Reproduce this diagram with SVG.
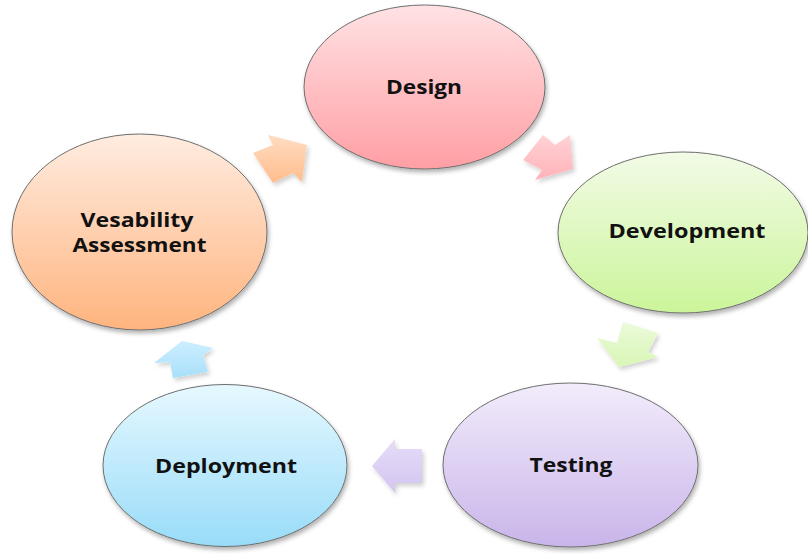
<svg xmlns="http://www.w3.org/2000/svg" width="808" height="554" viewBox="0 0 808 554">
  <style>
    .node { stroke: #6e6e6e; stroke-width: 1; filter: url(#shadow); }
    .arrow { stroke: none; filter: url(#ashadow); }
    .label { font-family: "Open Sans", "Liberation Sans", sans-serif; font-weight: 700; font-size: 20px; fill: #111; text-anchor: middle; }
  </style>
  <defs>
    <filter id="shadow" x="-10%" y="-10%" width="125%" height="130%">
      <feDropShadow dx="1.5" dy="3" stdDeviation="2" flood-color="#000" flood-opacity="0.3"/>
    </filter>
    <filter id="ashadow" x="-20%" y="-20%" width="150%" height="150%">
      <feDropShadow dx="2" dy="3" stdDeviation="2" flood-color="#000" flood-opacity="0.18"/>
    </filter>
    <linearGradient id="gPink" x1="0" y1="0" x2="0" y2="1">
      <stop offset="0" stop-color="#ffe2e4"/>
      <stop offset="1" stop-color="#ff9fa4"/>
    </linearGradient>
    <linearGradient id="gGreen" x1="0" y1="0" x2="0" y2="1">
      <stop offset="0" stop-color="#f2fbe6"/>
      <stop offset="1" stop-color="#cbf59a"/>
    </linearGradient>
    <linearGradient id="gOrange" x1="0" y1="0" x2="0" y2="1">
      <stop offset="0" stop-color="#ffece0"/>
      <stop offset="1" stop-color="#ffb47e"/>
    </linearGradient>
    <linearGradient id="gPurple" x1="0" y1="0" x2="0" y2="1">
      <stop offset="0" stop-color="#f2ecfb"/>
      <stop offset="1" stop-color="#c9b5ea"/>
    </linearGradient>
    <linearGradient id="gBlue" x1="0" y1="0" x2="0" y2="1">
      <stop offset="0" stop-color="#e6f8ff"/>
      <stop offset="1" stop-color="#98dcf8"/>
    </linearGradient>
    <linearGradient id="aOrange" x1="0" y1="0" x2="0" y2="1">
      <stop offset="0" stop-color="#ffdcc2"/>
      <stop offset="1" stop-color="#ffbd8c"/>
    </linearGradient>
    <linearGradient id="aPink" x1="0" y1="0" x2="0" y2="1">
      <stop offset="0" stop-color="#ffd2d5"/>
      <stop offset="1" stop-color="#ffb3b8"/>
    </linearGradient>
    <linearGradient id="aGreen" x1="0" y1="0" x2="0" y2="1">
      <stop offset="0" stop-color="#ecfadb"/>
      <stop offset="1" stop-color="#d8f6b4"/>
    </linearGradient>
    <linearGradient id="aPurple" x1="0" y1="0" x2="0" y2="1">
      <stop offset="0" stop-color="#e6dcf8"/>
      <stop offset="1" stop-color="#d3c5f0"/>
    </linearGradient>
    <linearGradient id="aBlue" x1="0" y1="0" x2="0" y2="1">
      <stop offset="0" stop-color="#cdeeff"/>
      <stop offset="1" stop-color="#a8e0fa"/>
    </linearGradient>
  </defs>

  <g id="connectors">
    <polygon id="arrow-vesability-design" class="arrow" fill="url(#aOrange)" points="253,153 273,145 268,135 307,145 302,182 293,173 273,183"/>
    <polygon id="arrow-design-development" class="arrow" fill="url(#aPink)" points="543,135 555,145 570,135 573,169 535,180 542,170 523,160"/>
    <polygon id="arrow-development-testing" class="arrow" fill="url(#aGreen)" points="623,322 658,333 648,352 658,357 619,367 597,338 617,343"/>
    <polygon id="arrow-testing-deployment" class="arrow" fill="url(#aPurple)" points="422,449 395,449 395,439 372,466 395,493 395,483 422,483"/>
    <polygon id="arrow-deployment-vesability" class="arrow" fill="url(#aBlue)" points="173,378 208,372 203,355 213,348 182,341 154,363 170,362"/>
  </g>

  <g id="node-design">
    <ellipse class="node" cx="424.5" cy="87" rx="120.5" ry="82" fill="url(#gPink)"/>
    <text class="label" x="424" y="94" textLength="76" lengthAdjust="spacingAndGlyphs">Design</text>
  </g>
  <g id="node-development">
    <ellipse class="node" cx="683" cy="232.5" rx="125" ry="80.5" fill="url(#gGreen)"/>
    <text class="label" x="687" y="238" textLength="157" lengthAdjust="spacingAndGlyphs">Development</text>
  </g>
  <g id="node-testing">
    <ellipse class="node" cx="570.5" cy="465" rx="127.5" ry="82" fill="url(#gPurple)"/>
    <text class="label" x="571" y="472" textLength="83" lengthAdjust="spacingAndGlyphs">Testing</text>
  </g>
  <g id="node-deployment">
    <ellipse class="node" cx="225" cy="465.5" rx="122" ry="81" fill="url(#gBlue)"/>
    <text class="label" x="226" y="473" textLength="142" lengthAdjust="spacingAndGlyphs">Deployment</text>
  </g>
  <g id="node-vesability">
    <ellipse class="node" cx="139.5" cy="232" rx="127.5" ry="98" fill="url(#gOrange)"/>
    <text class="label" x="137" y="227" textLength="113" lengthAdjust="spacingAndGlyphs">Vesability</text>
    <text class="label" x="139.5" y="252" textLength="134" lengthAdjust="spacingAndGlyphs">Assessment</text>
  </g>
</svg>
